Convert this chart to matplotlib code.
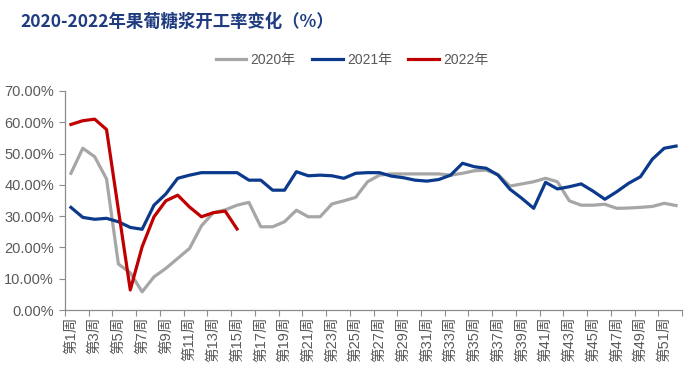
import matplotlib
matplotlib.use("Agg")
import matplotlib.pyplot as plt
import numpy as np

plt.rcParams['font.family'] = ['Noto Sans CJK SC', 'DejaVu Sans']

weeks = list(range(1, 53))
week_labels = [f"第{w}周" for w in range(1, 53, 2)]

y2020 = [43.7, 51.7, 49.0, 41.9, 14.7, 11.9, 5.8, 10.6, 13.3, 16.5, 19.7, 26.9, 31.1, 32.0, 33.5,
         34.4, 26.6, 26.6, 28.2, 31.9, 29.8, 29.8, 33.9, 34.9, 36.0, 41.0, 43.1, 43.5, 43.5, 43.5,
         43.5, 43.5, 43.1, 43.7, 44.5, 44.7, 43.3, 39.6, 40.3, 41.0, 42.1, 41.0, 34.9, 33.5, 33.5,
         33.8, 32.5, 32.6, 32.8, 33.1, 34.1, 33.4]
y2021 = [32.8, 29.6, 29.0, 29.3, 28.2, 26.4, 25.8, 33.5, 37.1, 42.1, 43.1, 43.9, 43.9, 43.9, 43.9,
         41.5, 41.5, 38.3, 38.3, 44.2, 42.9, 43.1, 42.9, 42.1, 43.7, 43.9, 43.9, 42.8, 42.3, 41.5,
         41.2, 41.7, 43.1, 46.9, 45.8, 45.3, 43.1, 38.6, 35.7, 32.5, 40.8, 38.7, 39.4, 40.3, 38.0,
         35.4, 37.8, 40.5, 42.6, 48.2, 51.7, 52.4]
y2022 = [59.3, 60.5, 61.0, 57.7, 32.0, 6.4, 20.2, 29.8, 34.9, 36.7, 32.9, 29.8, 31.1, 31.6, 25.9]

series_names = ["2020年", "2021年", "2022年"]
colors = ["#A6A6A6", "#0B3A8C", "#C00000"]

fig = plt.figure(figsize=(7.0, 3.74), dpi=100)
ax = fig.add_axes([65/700, 1-310/374, (682-65)/700, (310-91)/374])

ax.plot(weeks, y2020, color=colors[0], lw=2.3, label=series_names[0])
ax.plot(weeks, y2021, color=colors[1], lw=2.3, label=series_names[1])
ax.plot(weeks[:len(y2022)], y2022, color=colors[2], lw=2.3, label=series_names[2])

ax.set_xlim(0.5, 52.5)
ax.set_ylim(0, 70)
ax.set_yticks(np.arange(0, 71, 10))
ax.set_yticklabels([f"{v:.2f}%" for v in np.arange(0, 71, 10)],
                   family=['Liberation Sans', 'DejaVu Sans'])

ax.set_xticks(np.arange(0.5, 53, 2))
ax.set_xticklabels([])
ax.set_xticks(list(range(1, 53, 2)), minor=True)
ax.set_xticklabels(week_labels, minor=True, rotation=90, va='top', ha='center',
                   family=['Liberation Sans', 'Noto Sans CJK SC'])
ax.tick_params(axis='x', which='minor', length=0, pad=5, labelsize=10.5, labelcolor='#595959')
ax.tick_params(axis='x', which='major', length=4, color='#8C8C8C', direction='out')
ax.tick_params(axis='y', length=4, color='#8C8C8C', direction='out', labelsize=10.5,
               labelcolor='#595959', pad=4)

for s in ['top', 'right']:
    ax.spines[s].set_visible(False)
for s in ['left', 'bottom']:
    ax.spines[s].set_color('#8C8C8C')
    ax.spines[s].set_linewidth(0.9)

fig.text(20/700, 1-22/374, "2020-2022年果葡糖浆开工率变化（%）", fontsize=12.5, fontweight='bold',
         color='#1F3C80', va='center', ha='left')

leg = fig.legend(loc='center', bbox_to_anchor=(352/700, 1-60/374), ncol=3, frameon=False,
                 handlelength=2.2, columnspacing=1.2, handletextpad=0.3,
                 prop={'family': ['Liberation Sans', 'Noto Sans CJK SC'], 'size': 10})
for t in leg.get_texts():
    t.set_color('#595959')

fig.savefig("out.png", dpi=100)
